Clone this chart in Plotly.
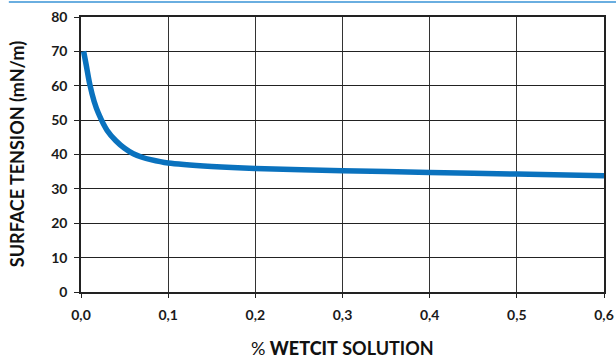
import plotly.graph_objects as go

concentration = [0.003, 0.006, 0.01, 0.015, 0.02, 0.03, 0.04, 0.05, 0.06, 0.07, 0.08, 0.1, 0.15, 0.2, 0.3, 0.4, 0.5, 0.6]
surface_tension = [70.0, 66.0, 60.5, 55.5, 52.0, 47.0, 44.0, 41.8, 40.2, 39.2, 38.5, 37.5, 36.5, 35.9, 35.3, 34.8, 34.3, 33.8]
x_tick_vals = [0, 0.1, 0.2, 0.3, 0.4, 0.5, 0.6]
x_tick_text = ["0,0", "0,1", "0,2", "0,3", "0,4", "0,5", "0,6"]
y_tick_vals = [0, 10, 20, 30, 40, 50, 60, 70, 80]
x_title = "<span style='font-weight:400'>%</span> <span style='font-weight:900'>WETCIT</span> SOLUTION"
y_title = "SURFACE TENSION (mN/m)"

font_family = "Lato"
tick_font = dict(family=font_family, size=14, color="#1a1a1a", weight="bold")

fig = go.Figure()
fig.add_trace(go.Scatter(
    x=concentration, y=surface_tension, mode="lines",
    line=dict(color="#0a72be", width=5.5, shape="spline", smoothing=0.8),
    hoverinfo="skip", showlegend=False,
))

fig.update_layout(
    width=616, height=358,
    margin=dict(l=81, r=12, t=17, b=66),
    paper_bgcolor="white", plot_bgcolor="white",
    font=dict(family=font_family, color="#1a1a1a", size=13),
    shapes=[dict(type="line", xref="paper", yref="paper",
                 x0=-0.138, x1=1.03, y0=1.0545, y1=1.0545,
                 line=dict(color="#6aaee0", width=2))],
    annotations=[
        dict(text=x_title, xref="paper", yref="paper", x=0.5, y=-0.205,
             xanchor="center", yanchor="middle", showarrow=False,
             font=dict(family=font_family, size=18, color="#111111", weight="bold")),
        dict(text=y_title, xref="paper", yref="paper", x=-0.123, y=0.5,
             xanchor="center", yanchor="middle", showarrow=False, textangle=-90,
             font=dict(family=font_family, size=18, color="#111111", weight="bold")),
    ],
)
fig.update_xaxes(
    range=[0, 0.6], tickvals=x_tick_vals, ticktext=x_tick_text,
    showgrid=True, gridcolor="#333333", gridwidth=1.2,
    showline=True, linecolor="#222222", linewidth=1.5, mirror=True,
    ticks="outside", ticklen=4, tickcolor="#222222",
    tickfont=tick_font, ticklabelstandoff=5,
    zeroline=False, automargin=False,
)
fig.update_yaxes(
    range=[0, 80], tickvals=y_tick_vals,
    showgrid=True, gridcolor="#222222", gridwidth=1.2,
    showline=True, linecolor="#222222", linewidth=1.5, mirror=True,
    ticks="outside", ticklen=5, tickcolor="#222222",
    tickfont=tick_font, ticklabelstandoff=4,
    zeroline=False, automargin=False,
)

fig.write_html("out.html", config={"displayModeBar": False},
               post_script="document.body.style.margin='0';document.body.style.overflow='hidden';")
